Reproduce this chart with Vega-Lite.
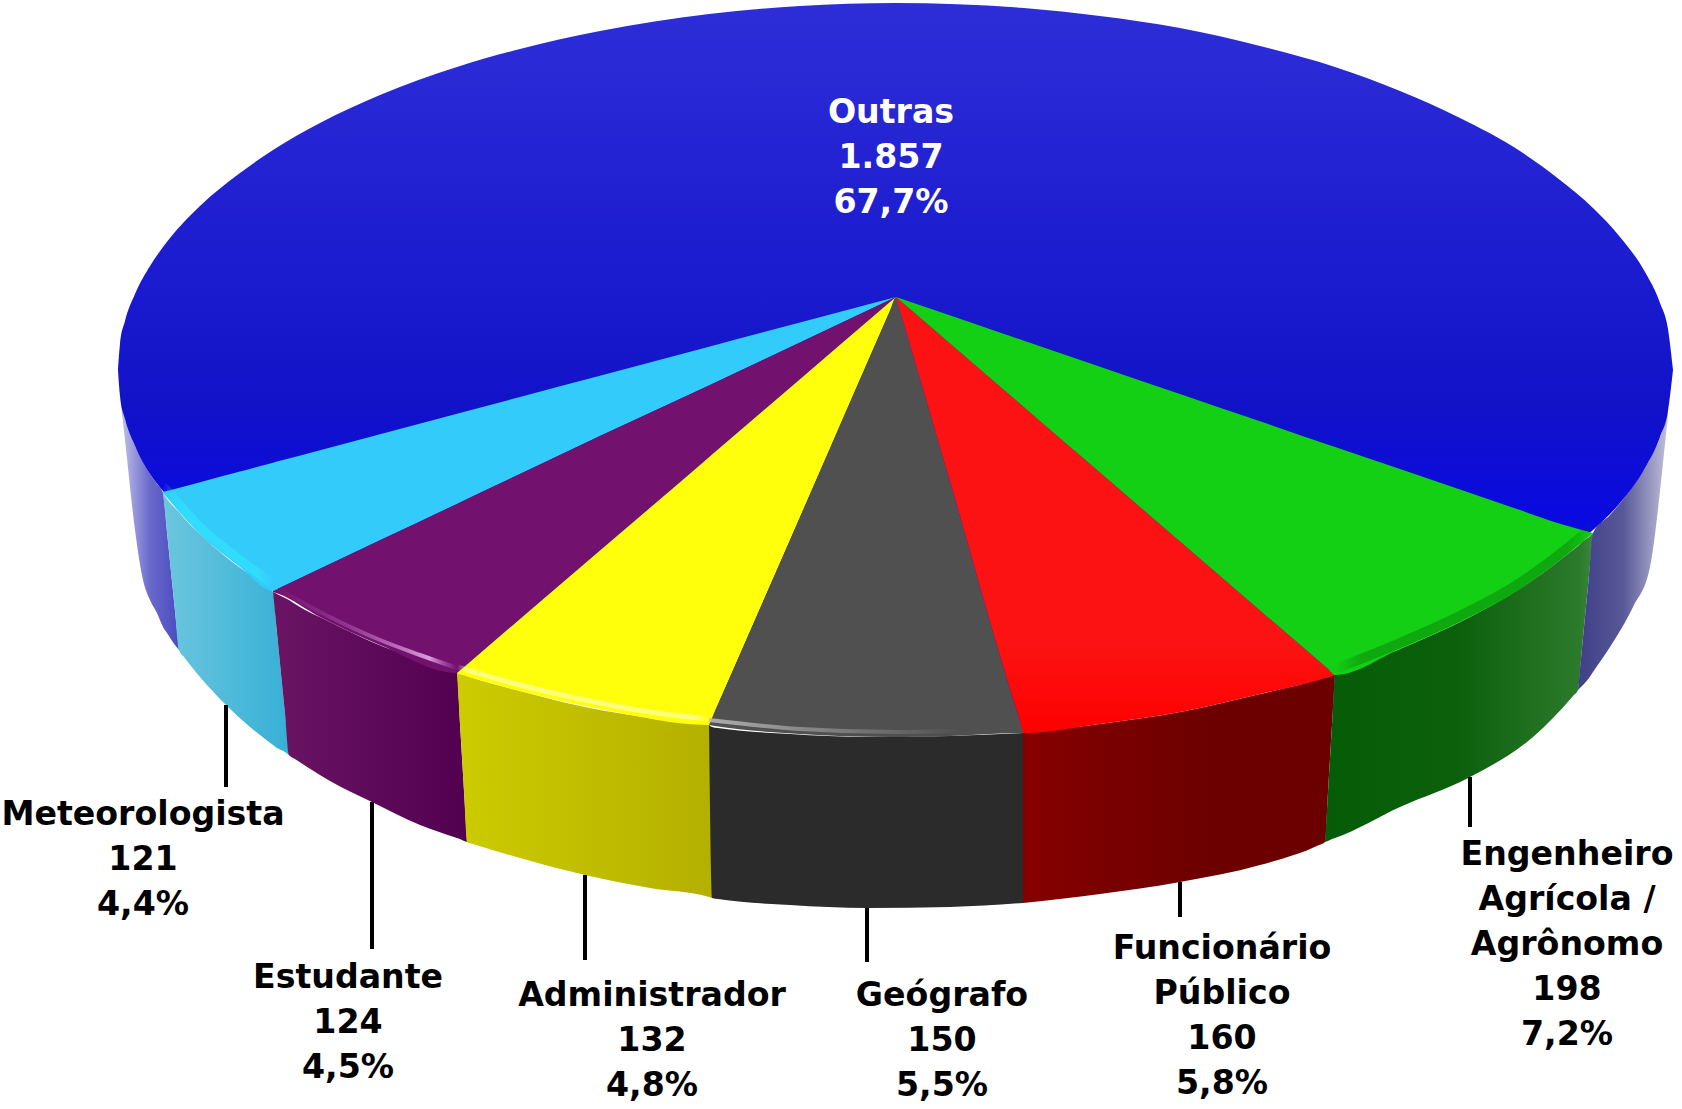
{"$schema":"https://vega.github.io/schema/vega-lite/v6.json","width":1682,"height":1109,"padding":0,"autosize":"none","background":"white","view":{"stroke":null},
"datasets":{
"side":[
{"s":"Outras L","x":120,"y":396,"y2":396},{"s":"Outras L","x":125,"y":419,"y2":440},{"s":"Outras L","x":135,"y":446,"y2":530},{"s":"Outras L","x":143,"y":461,"y2":580},{"s":"Outras L","x":150,"y":474,"y2":600},{"s":"Outras L","x":157,"y":484,"y2":613},{"s":"Outras L","x":163,"y":493,"y2":627},{"s":"Outras L","x":167,"y":532,"y2":633},{"s":"Outras L","x":175,"y":611,"y2":645},{"s":"Outras L","x":179,"y":650,"y2":650},
{"s":"Meteorologista","x":163,"y":493,"y2":493},{"s":"Meteorologista","x":167,"y":499,"y2":532},{"s":"Meteorologista","x":175,"y":508,"y2":611},{"s":"Meteorologista","x":179,"y":512,"y2":650},{"s":"Meteorologista","x":184,"y":518,"y2":657},{"s":"Meteorologista","x":200,"y":534,"y2":677},{"s":"Meteorologista","x":226,"y":557,"y2":705},{"s":"Meteorologista","x":250,"y":575,"y2":727},{"s":"Meteorologista","x":273,"y":592,"y2":745},{"s":"Meteorologista","x":277,"y":633,"y2":748},{"s":"Meteorologista","x":285,"y":714,"y2":752},{"s":"Meteorologista","x":289,"y":755,"y2":755},
{"s":"Estudante","x":273,"y":592,"y2":592},{"s":"Estudante","x":277,"y":594,"y2":633},{"s":"Estudante","x":285,"y":598,"y2":714},{"s":"Estudante","x":289,"y":600,"y2":755},{"s":"Estudante","x":295,"y":604,"y2":759},{"s":"Estudante","x":330,"y":622,"y2":781},{"s":"Estudante","x":372,"y":642,"y2":802},{"s":"Estudante","x":420,"y":660,"y2":825},{"s":"Estudante","x":457,"y":673,"y2":838},{"s":"Estudante","x":460,"y":724,"y2":839},{"s":"Estudante","x":464,"y":791,"y2":841},{"s":"Estudante","x":467,"y":842,"y2":842},
{"s":"Administrador","x":457,"y":673,"y2":673},{"s":"Administrador","x":460,"y":674,"y2":724},{"s":"Administrador","x":464,"y":675,"y2":791},{"s":"Administrador","x":467,"y":676,"y2":842},{"s":"Administrador","x":473,"y":678,"y2":844},{"s":"Administrador","x":520,"y":691,"y2":858},{"s":"Administrador","x":585,"y":707,"y2":875},{"s":"Administrador","x":650,"y":718,"y2":888},{"s":"Administrador","x":709,"y":725,"y2":897},{"s":"Administrador","x":712,"y":898,"y2":898},
{"s":"Geógrafo","x":709,"y":725,"y2":725},{"s":"Geógrafo","x":712,"y":727,"y2":898},{"s":"Geógrafo","x":718,"y":728,"y2":899},{"s":"Geógrafo","x":790,"y":734,"y2":905},{"s":"Geógrafo","x":867,"y":737,"y2":908},{"s":"Geógrafo","x":950,"y":736,"y2":907},{"s":"Geógrafo","x":1023,"y":733,"y2":903},
{"s":"Funcionário","x":1023,"y":733,"y2":903},{"s":"Funcionário","x":1100,"y":724,"y2":894},{"s":"Funcionário","x":1180,"y":712,"y2":882},{"s":"Funcionário","x":1260,"y":694,"y2":865},{"s":"Funcionário","x":1319,"y":679,"y2":845},{"s":"Funcionário","x":1325,"y":677,"y2":842},{"s":"Funcionário","x":1328,"y":676,"y2":792},{"s":"Funcionário","x":1332,"y":675,"y2":725},{"s":"Funcionário","x":1335,"y":675,"y2":675},
{"s":"Engenheiro","x":1325,"y":842,"y2":842},{"s":"Engenheiro","x":1328,"y":792,"y2":841},{"s":"Engenheiro","x":1332,"y":725,"y2":839},{"s":"Engenheiro","x":1335,"y":675,"y2":838},{"s":"Engenheiro","x":1400,"y":649,"y2":807},{"s":"Engenheiro","x":1470,"y":617,"y2":777},{"s":"Engenheiro","x":1533,"y":580,"y2":737},{"s":"Engenheiro","x":1573,"y":550,"y2":696},{"s":"Engenheiro","x":1578,"y":546,"y2":690},{"s":"Engenheiro","x":1582,"y":542,"y2":648},{"s":"Engenheiro","x":1589,"y":537,"y2":575},{"s":"Engenheiro","x":1593,"y":533,"y2":533},
{"s":"Outras R","x":1578,"y":690,"y2":690},{"s":"Outras R","x":1582,"y":648,"y2":686},{"s":"Outras R","x":1589,"y":575,"y2":678},{"s":"Outras R","x":1593,"y":533,"y2":672},{"s":"Outras R","x":1610,"y":515,"y2":647},{"s":"Outras R","x":1633,"y":486,"y2":607},{"s":"Outras R","x":1650,"y":459,"y2":567},{"s":"Outras R","x":1663,"y":429,"y2":463},{"s":"Outras R","x":1668,"y":411,"y2":415}
],
"top":[
{"s":"Outras","x":118,"y":370,"y2":370},{"s":"Outras","x":120,"y":344,"y2":396},{"s":"Outras","x":125,"y":321,"y2":419},{"s":"Outras","x":135,"y":294,"y2":446},{"s":"Outras","x":150,"y":266,"y2":474},{"s":"Outras","x":163,"y":247,"y2":491},{"s":"Outras","x":200,"y":206,"y2":530},{"s":"Outras","x":240,"y":173,"y2":563},{"s":"Outras","x":273,"y":150,"y2":586},{"s":"Outras","x":320,"y":123,"y2":613},{"s":"Outras","x":380,"y":95,"y2":641},{"s":"Outras","x":457,"y":67,"y2":669},{"s":"Outras","x":520,"y":49,"y2":687},{"s":"Outras","x":600,"y":31,"y2":705},{"s":"Outras","x":709,"y":14,"y2":722},{"s":"Outras","x":800,"y":6,"y2":730},{"s":"Outras","x":896,"y":3,"y2":733},{"s":"Outras","x":1024,"y":8,"y2":729},{"s":"Outras","x":1100,"y":16,"y2":720},{"s":"Outras","x":1180,"y":28,"y2":708},{"s":"Outras","x":1260,"y":46,"y2":690},{"s":"Outras","x":1335,"y":67,"y2":669},{"s":"Outras","x":1400,"y":91,"y2":645},{"s":"Outras","x":1460,"y":118,"y2":618},{"s":"Outras","x":1520,"y":151,"y2":585},{"s":"Outras","x":1560,"y":180,"y2":556},{"s":"Outras","x":1593,"y":208,"y2":530},{"s":"Outras","x":1620,"y":237,"y2":503},{"s":"Outras","x":1645,"y":272,"y2":468},{"s":"Outras","x":1660,"y":303,"y2":437},{"s":"Outras","x":1668,"y":329,"y2":411},{"s":"Outras","x":1673,"y":370,"y2":370},
{"s":"Meteorologista","x":163,"y":492,"y2":493},{"s":"Meteorologista","x":200,"y":482.2,"y2":534},{"s":"Meteorologista","x":240,"y":471.5,"y2":567},{"s":"Meteorologista","x":273,"y":462.7,"y2":591},{"s":"Meteorologista","x":279,"y":461.1,"y2":588.2},{"s":"Meteorologista","x":320,"y":450.2,"y2":568.8},{"s":"Meteorologista","x":380,"y":434.2,"y2":540.3},{"s":"Meteorologista","x":457,"y":413.8,"y2":503.9},{"s":"Meteorologista","x":520,"y":397,"y2":474},{"s":"Meteorologista","x":600,"y":375.8,"y2":436},{"s":"Meteorologista","x":709,"y":346.7,"y2":385.5},{"s":"Meteorologista","x":800,"y":322.5,"y2":342.5},{"s":"Meteorologista","x":896,"y":297,"y2":297},
{"s":"Estudante","x":273,"y":591,"y2":592},{"s":"Estudante","x":279,"y":588.2,"y2":594},{"s":"Estudante","x":320,"y":568.8,"y2":617},{"s":"Estudante","x":380,"y":540.3,"y2":645},{"s":"Estudante","x":457,"y":503.9,"y2":673},{"s":"Estudante","x":463,"y":501,"y2":667.9},{"s":"Estudante","x":520,"y":474,"y2":619},{"s":"Estudante","x":600,"y":436,"y2":550.5},{"s":"Estudante","x":709,"y":385.5,"y2":457.2},{"s":"Estudante","x":800,"y":342.5,"y2":379.2},{"s":"Estudante","x":896,"y":297,"y2":297},
{"s":"Administrador","x":457,"y":673,"y2":673},{"s":"Administrador","x":463,"y":667.9,"y2":675},{"s":"Administrador","x":520,"y":619,"y2":691},{"s":"Administrador","x":600,"y":550.5,"y2":709},{"s":"Administrador","x":709,"y":457.2,"y2":725},{"s":"Administrador","x":715,"y":452,"y2":711.3},{"s":"Administrador","x":800,"y":379.2,"y2":517.2},{"s":"Administrador","x":890,"y":302.1,"y2":310.7},{"s":"Administrador","x":896,"y":297,"y2":297},
{"s":"Geógrafo","x":709,"y":725,"y2":725},{"s":"Geógrafo","x":715,"y":711.3,"y2":726},{"s":"Geógrafo","x":800,"y":517.2,"y2":734},{"s":"Geógrafo","x":890,"y":310.7,"y2":737},{"s":"Geógrafo","x":896,"y":297,"y2":737},{"s":"Geógrafo","x":902,"y":317.5,"y2":737},{"s":"Geógrafo","x":950,"y":481.7,"y2":736},{"s":"Geógrafo","x":1019,"y":717.7,"y2":733},{"s":"Geógrafo","x":1024,"y":733,"y2":733},
{"s":"Funcionário","x":896,"y":297,"y2":297},{"s":"Funcionário","x":902,"y":302.2,"y2":317.5},{"s":"Funcionário","x":950,"y":343.5,"y2":481.7},{"s":"Funcionário","x":1019,"y":402.9,"y2":717.7},{"s":"Funcionário","x":1024,"y":407.2,"y2":733},{"s":"Funcionário","x":1100,"y":472.6,"y2":724},{"s":"Funcionário","x":1180,"y":541.5,"y2":712},{"s":"Funcionário","x":1260,"y":610.4,"y2":694},{"s":"Funcionário","x":1329,"y":669.8,"y2":677},{"s":"Funcionário","x":1335,"y":675,"y2":675},
{"s":"Engenheiro","x":896,"y":297,"y2":297},{"s":"Engenheiro","x":1024,"y":340.7,"y2":407.2},{"s":"Engenheiro","x":1100,"y":366.7,"y2":472.6},{"s":"Engenheiro","x":1180,"y":394,"y2":541.5},{"s":"Engenheiro","x":1260,"y":421.3,"y2":610.4},{"s":"Engenheiro","x":1329,"y":444.9,"y2":669.8},{"s":"Engenheiro","x":1335,"y":446.9,"y2":675},{"s":"Engenheiro","x":1400,"y":469.1,"y2":649},{"s":"Engenheiro","x":1460,"y":489.6,"y2":622},{"s":"Engenheiro","x":1520,"y":510.1,"y2":589},{"s":"Engenheiro","x":1560,"y":523.8,"y2":560},{"s":"Engenheiro","x":1593,"y":533,"y2":533}
],
"rim":[
{"s":"Meteorologista","x":163,"y":493},{"s":"Meteorologista","x":200,"y":534},{"s":"Meteorologista","x":240,"y":567},{"s":"Meteorologista","x":273,"y":591},
{"s":"Estudante","x":273,"y":591},{"s":"Estudante","x":320,"y":617},{"s":"Estudante","x":380,"y":645},{"s":"Estudante","x":420,"y":660},{"s":"Estudante","x":457,"y":673},
{"s":"Administrador","x":457,"y":673},{"s":"Administrador","x":520,"y":691},{"s":"Administrador","x":600,"y":709},{"s":"Administrador","x":650,"y":718},{"s":"Administrador","x":709,"y":725},
{"s":"Geógrafo","x":709,"y":725},{"s":"Geógrafo","x":800,"y":734},{"s":"Geógrafo","x":896,"y":737},{"s":"Geógrafo","x":950,"y":736},{"s":"Geógrafo","x":1024,"y":733},
{"s":"Engenheiro","x":1335,"y":675},{"s":"Engenheiro","x":1400,"y":649},{"s":"Engenheiro","x":1460,"y":622},{"s":"Engenheiro","x":1520,"y":589},{"s":"Engenheiro","x":1560,"y":560},{"s":"Engenheiro","x":1593,"y":533}
],
"leaders":[
{"x":226,"y":705,"y2":787},{"x":372,"y":802,"y2":949},{"x":585,"y":875,"y2":960},{"x":867,"y":908,"y2":962},{"x":1180,"y":882,"y2":917},{"x":1470,"y":777,"y2":827}
],
"labels":[
{"x":891,"y":123,"t":"Outras\n1.857\n67,7%","c":"w"},
{"x":143,"y":825,"t":"Meteorologista\n121\n4,4%","c":"k"},
{"x":348,"y":988,"t":"Estudante\n124\n4,5%","c":"k"},
{"x":652,"y":1006,"t":"Administrador\n132\n4,8%","c":"k"},
{"x":942,"y":1006,"t":"Geógrafo\n150\n5,5%","c":"k"},
{"x":1222,"y":959,"t":"Funcionário\nPúblico\n160\n5,8%","c":"k"},
{"x":1567,"y":865,"t":"Engenheiro\nAgrícola /\nAgrônomo\n198\n7,2%","c":"k"}
]},
"encoding":{"x":{"field":"x","type":"quantitative","axis":null,"scale":{"domain":[0,1682],"nice":false,"zero":false}},"y":{"field":"y","type":"quantitative","axis":null,"scale":{"domain":[0,1109],"reverse":true,"nice":false,"zero":false}}},
"layer":[
{"data":{"name":"side"},"transform":[{"filter":"datum.s==='Outras L'"}],"mark":{"type":"area","interpolate":"monotone","fill":{"gradient":"linear","stops":[{"offset":0,"color":"#c4c4ea"},{"offset":0.5,"color":"#6a6acc"},{"offset":1,"color":"#4a4ac0"}]}},"encoding":{"y2":{"field":"y2"}}},
{"data":{"name":"side"},"transform":[{"filter":"datum.s==='Meteorologista'"}],"mark":{"type":"area","interpolate":"monotone","fill":{"gradient":"linear","stops":[{"offset":0,"color":"#6cc6de"},{"offset":1,"color":"#36b0d6"}]}},"encoding":{"y2":{"field":"y2"}}},
{"data":{"name":"side"},"transform":[{"filter":"datum.s==='Estudante'"}],"mark":{"type":"area","interpolate":"monotone","fill":{"gradient":"linear","stops":[{"offset":0,"color":"#6a1464"},{"offset":1,"color":"#520050"}]}},"encoding":{"y2":{"field":"y2"}}},
{"data":{"name":"side"},"transform":[{"filter":"datum.s==='Administrador'"}],"mark":{"type":"area","interpolate":"monotone","fill":{"gradient":"linear","stops":[{"offset":0,"color":"#cccc00"},{"offset":1,"color":"#b4b000"}]}},"encoding":{"y2":{"field":"y2"}}},
{"data":{"name":"side"},"transform":[{"filter":"datum.s==='Geógrafo'"}],"mark":{"type":"area","interpolate":"monotone","fill":"#2b2b2b"},"encoding":{"y2":{"field":"y2"}}},
{"data":{"name":"side"},"transform":[{"filter":"datum.s==='Funcionário'"}],"mark":{"type":"area","interpolate":"monotone","fill":{"gradient":"linear","stops":[{"offset":0,"color":"#860000"},{"offset":0.6,"color":"#6c0000"},{"offset":1,"color":"#6c0000"}]}},"encoding":{"y2":{"field":"y2"}}},
{"data":{"name":"side"},"transform":[{"filter":"datum.s==='Engenheiro'"}],"mark":{"type":"area","interpolate":"monotone","fill":{"gradient":"linear","stops":[{"offset":0,"color":"#065c06"},{"offset":0.5,"color":"#0c600c"},{"offset":0.95,"color":"#2c7a2c"},{"offset":1,"color":"#3a8a3a"}]}},"encoding":{"y2":{"field":"y2"}}},
{"data":{"name":"side"},"transform":[{"filter":"datum.s==='Outras R'"}],"mark":{"type":"area","interpolate":"monotone","fill":{"gradient":"linear","stops":[{"offset":0,"color":"#3f3f88"},{"offset":0.5,"color":"#585898"},{"offset":1,"color":"#c0c0dc"}]}},"encoding":{"y2":{"field":"y2"}}},
{"data":{"name":"top"},"transform":[{"filter":"datum.s==='Outras'"}],"mark":{"type":"area","interpolate":"monotone","fill":{"gradient":"linear","x1":0,"y1":0,"x2":0,"y2":1,"stops":[{"offset":0,"color":"#2e2ed8"},{"offset":0.35,"color":"#1c1cd0"},{"offset":0.55,"color":"#1212c8"},{"offset":0.7,"color":"#0a0ae0"}]}},"encoding":{"y2":{"field":"y2"}}},
{"data":{"name":"top"},"transform":[{"filter":"datum.s==='Meteorologista'"}],"mark":{"type":"area","interpolate":"monotone","fill":"#33ccfa"},"encoding":{"y2":{"field":"y2"}}},
{"data":{"name":"top"},"transform":[{"filter":"datum.s==='Estudante'"}],"mark":{"type":"area","interpolate":"monotone","fill":"#73116e"},"encoding":{"y2":{"field":"y2"}}},
{"data":{"name":"top"},"transform":[{"filter":"datum.s==='Administrador'"}],"mark":{"type":"area","interpolate":"monotone","fill":"#ffff0c"},"encoding":{"y2":{"field":"y2"}}},
{"data":{"name":"top"},"transform":[{"filter":"datum.s==='Geógrafo'"}],"mark":{"type":"area","interpolate":"monotone","fill":"#505050"},"encoding":{"y2":{"field":"y2"}}},
{"data":{"name":"top"},"transform":[{"filter":"datum.s==='Funcionário'"}],"mark":{"type":"area","interpolate":"monotone","fill":{"gradient":"linear","x1":0,"y1":0,"x2":0,"y2":1,"stops":[{"offset":0,"color":"#fc1212"},{"offset":0.8,"color":"#fc1212"},{"offset":1,"color":"#ff0000"}]}},"encoding":{"y2":{"field":"y2"}}},
{"data":{"name":"top"},"transform":[{"filter":"datum.s==='Engenheiro'"}],"mark":{"type":"area","interpolate":"monotone","fill":"#14d014"},"encoding":{"y2":{"field":"y2"}}},
{"data":{"name":"rim"},"transform":[{"filter":"datum.s==='Meteorologista'"}],"mark":{"type":"line","interpolate":"monotone","yOffset":-7,"strokeWidth":9,"stroke":{"gradient":"linear","stops":[{"offset":0,"color":"rgba(46,232,255,0)"},{"offset":0.2,"color":"rgba(46,232,255,0.6)"},{"offset":0.85,"color":"rgba(46,232,255,0.6)"},{"offset":1,"color":"rgba(46,232,255,0)"}]}}},
{"data":{"name":"rim"},"transform":[{"filter":"datum.s==='Estudante'"}],"mark":{"type":"line","interpolate":"monotone","yOffset":-5,"strokeWidth":4,"stroke":{"gradient":"linear","stops":[{"offset":0,"color":"rgba(200,120,200,0)"},{"offset":0.4,"color":"rgba(200,120,200,0.35)"},{"offset":0.85,"color":"rgba(230,170,230,0.9)"},{"offset":0.96,"color":"rgba(200,120,200,0.3)"},{"offset":1,"color":"rgba(200,120,200,0)"}]}}},
{"data":{"name":"rim"},"transform":[{"filter":"datum.s==='Administrador'"}],"mark":{"type":"line","interpolate":"monotone","yOffset":-6,"strokeWidth":5,"stroke":{"gradient":"linear","stops":[{"offset":0,"color":"rgba(255,255,170,0)"},{"offset":0.05,"color":"rgba(255,255,170,0.7)"},{"offset":0.95,"color":"rgba(255,255,170,0.7)"},{"offset":1,"color":"rgba(255,255,170,0)"}]}}},
{"data":{"name":"rim"},"transform":[{"filter":"datum.s==='Geógrafo'"}],"mark":{"type":"line","interpolate":"monotone","yOffset":-5,"strokeWidth":4,"stroke":{"gradient":"linear","stops":[{"offset":0,"color":"rgba(190,190,190,0.85)"},{"offset":0.45,"color":"rgba(170,170,170,0.45)"},{"offset":0.8,"color":"rgba(170,170,170,0)"},{"offset":1,"color":"rgba(170,170,170,0)"}]}}},
{"data":{"name":"rim"},"transform":[{"filter":"datum.s==='Engenheiro'"}],"mark":{"type":"line","interpolate":"monotone","yOffset":-6,"strokeWidth":10,"stroke":{"gradient":"linear","stops":[{"offset":0,"color":"rgba(6,110,6,0)"},{"offset":0.1,"color":"rgba(6,110,6,0.4)"},{"offset":0.9,"color":"rgba(6,110,6,0.4)"},{"offset":1,"color":"rgba(6,110,6,0)"}]}}},
{"data":{"name":"leaders"},"mark":{"type":"rule","color":"black","strokeWidth":4},"encoding":{"y2":{"field":"y2"}}},
{"data":{"name":"labels"},"mark":{"type":"text","font":"DejaVu Sans","fontWeight":"bold","fontSize":33.2,"align":"center","baseline":"alphabetic","lineBreak":"\n","lineHeight":45},"encoding":{"text":{"field":"t"},"color":{"field":"c","type":"nominal","legend":null,"scale":{"domain":["w","k"],"range":["white","black"]}}}}
]}
